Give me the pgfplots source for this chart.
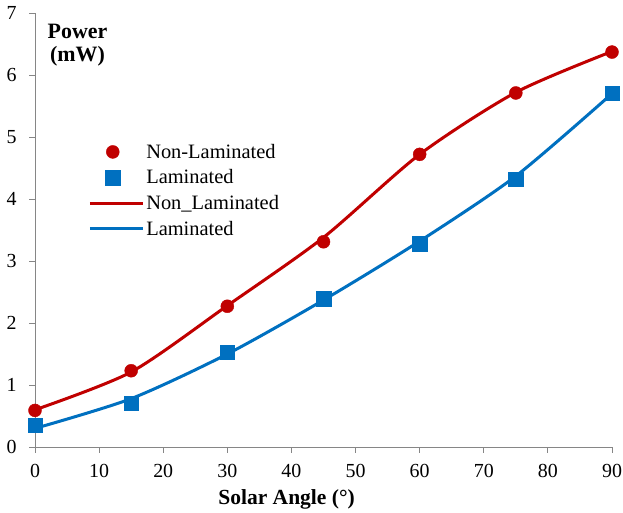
\documentclass[border=0pt]{standalone}
\usepackage{pgfplots}
\pgfplotsset{compat=1.18}
\usepackage{fontspec}
\setmainfont{Liberation Serif}
\newfontfamily\dvs{DejaVu Serif}
\newfontfamily\lmr{Latin Modern Roman}
\definecolor{nred}{HTML}{C00000}
\definecolor{lblue}{HTML}{0070C0}
\definecolor{axgray}{HTML}{868686}
\pgfplotsset{
  markleg/.style={legend image code/.code={\path[draw=none] (0bp,0bp) -- (53bp,0bp); \draw[##1] plot coordinates {(23bp,0bp)};}},
  lineleg/.style={legend image code/.code={\draw[##1] (0bp,0bp) -- (53bp,0bp);}},
}
\begin{document}
\begin{tikzpicture}
\begin{axis}[
  name=ax,
  scale only axis, width=577bp, height=434bp,
  xmin=0, xmax=90, ymin=0, ymax=7,
  axis lines=left,
  axis line style={-, draw=axgray, line width=0.8bp},
  xtick={0,10,...,90}, ytick={0,1,...,7},
  tick style={draw=axgray, line width=0.8bp},
  tick align=outside, major tick length=6bp,
  ticklabel style={font=\fontsize{20}{24}\selectfont},
  xticklabel style={yshift=-8bp},
  yticklabel style={xshift=-9bp},
  /pgf/number format/assume math mode=true,
  ylabel={Power\\(mW)},
  ylabel style={rotate=-90, at={(axis description cs:0.0737,0.982)}, anchor=north, align=center, font=\bfseries\fontsize{22}{23}\selectfont},
  xlabel={Solar Angle (°)},
  xlabel style={at={(axis description cs:0.436,0)}, anchor=base, yshift=-57bp, font=\bfseries\fontsize{21.6}{24}\selectfont},
  legend style={at={(axis description cs:0.092,0.703)}, anchor=north west, draw=none, fill=none, inner sep=0pt, row sep=6bp, font=\fontsize{20.5}{25}\selectfont, /tikz/every even column/.append style={column sep=4bp}},
  legend cell align=left,
]
\addplot[only marks, mark=*, mark size=6.5bp, color=nred, markleg]
  coordinates {(0,0.59) (15,1.23) (30,2.27) (45,3.31) (60,4.72) (75,5.71) (90,6.37)};
\addlegendentry{Non-Laminated}
\addplot[only marks, mark=square*, mark size=7.2bp, color=lblue, markleg]
  coordinates {(0,0.35) (15,0.71) (30,1.53) (45,2.39) (60,3.28) (75,4.32) (90,5.71)};
\addlegendentry{Laminated}
\addplot[smooth, tension=0.45, color=nred, line width=3bp, no marks, lineleg]
  coordinates {(0,0.6) (15,1.21) (30,2.28) (45,3.38) (60,4.72) (75,5.72) (90,6.38)};
\addlegendentry{Non\_Laminated}
\addplot[smooth, tension=0.45, color=lblue, line width=3bp, no marks, lineleg]
  coordinates {(0,0.3) (15,0.78) (30,1.5) (45,2.37) (60,3.32) (75,4.37) (90,5.7)};
\addlegendentry{Laminated}
\end{axis}
\pgfresetboundingbox
\path[use as bounding box] ([xshift=-35bp,yshift=-66bp]ax.south west) rectangle ([xshift=11bp,yshift=13bp]ax.north east);
\end{tikzpicture}
\end{document}
